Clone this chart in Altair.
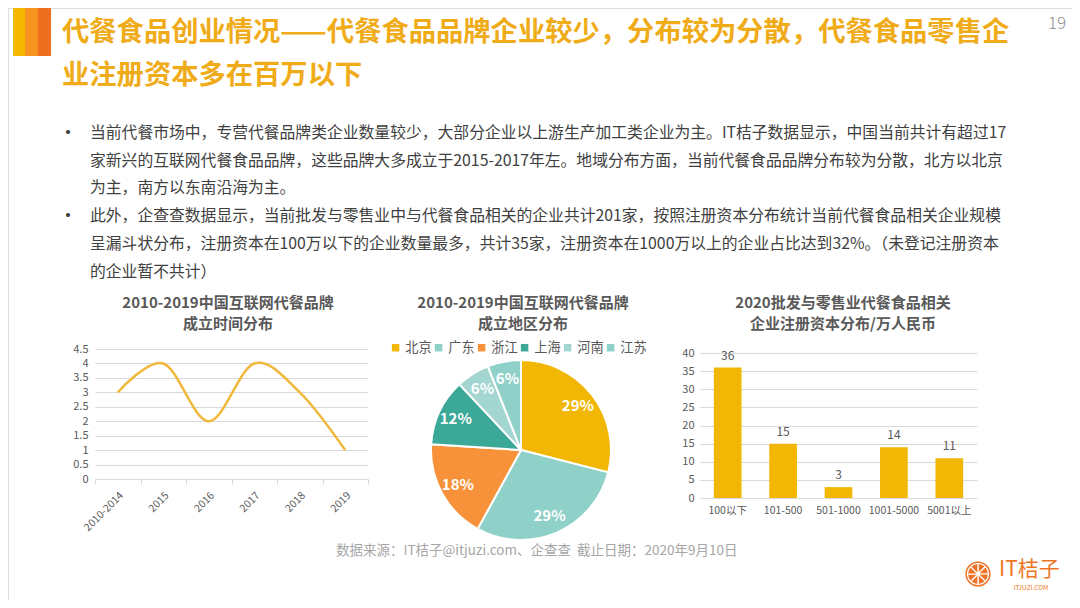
import altair as alt
import pandas as pd

FONT = "Noto Sans CJK SC"

# ---------------- data ----------------
line_years = ["2010-2014", "2015", "2016", "2017", "2018", "2019"]
line_counts = [3, 4, 2, 4, 3, 1]
line_ticks = [0, 0.5, 1, 1.5, 2, 2.5, 3, 3.5, 4, 4.5]

pie_regions = ["北京", "广东", "浙江", "上海", "河南", "江苏"]
pie_shares = [29, 29, 18, 12, 6, 6]
pie_labels = ["29%", "29%", "18%", "12%", "6%", "6%"]
pie_order = [1, 2, 3, 4, 5, 6]
pie_colors = ["#F2B705", "#8FD0C8", "#F7923A", "#3BA898", "#A3D6D0", "#8FD0C8"]

bar_ranges = ["100以下", "101-500", "501-1000", "1001-5000", "5001以上"]
bar_counts = [36, 15, 3, 14, 11]
bar_ticks = [0, 5, 10, 15, 20, 25, 30, 35, 40]

title_lines = [
    "代餐食品创业情况——代餐食品品牌企业较少，分布较为分散，代餐食品零售企",
    "业注册资本多在百万以下",
]
page_number = "19"
bullet_lines = [
    "当前代餐市场中，专营代餐品牌类企业数量较少，大部分企业以上游生产加工类企业为主。IT桔子数据显示，中国当前共计有超过17",
    "家新兴的互联网代餐食品品牌，这些品牌大多成立于2015-2017年左。地域分布方面，当前代餐食品品牌分布较为分散，北方以北京",
    "为主，南方以东南沿海为主。",
    "此外，企查查数据显示，当前批发与零售业中与代餐食品相关的企业共计201家，按照注册资本分布统计当前代餐食品相关企业规模",
    "呈漏斗状分布，注册资本在100万以下的企业数量最多，共计35家，注册资本在1000万以上的企业占比达到32%。（未登记注册资本",
    "的企业暂不共计）",
]
chart_titles = [
    ["2010-2019中国互联网代餐品牌", "成立时间分布"],
    ["2010-2019中国互联网代餐品牌", "成立地区分布"],
    ["2020批发与零售业代餐食品相关", "企业注册资本分布/万人民币"],
]
source_text = "数据来源：IT桔子@itjuzi.com、企查查\u00a0\u00a0截止日期：2020年9月10日"
logo_text = "IT桔子"
logo_sub = "ITJUZI.COM"
logo_slices = [1, 1, 1, 1, 1, 1, 1, 1]

GOLD = "#F0AB18"
GRID = "#D9D9D9"
AXIS_TXT = "#595959"


def label(s, x, y, size, color, weight="normal", align="left", baseline="middle"):
    return alt.Chart(pd.DataFrame({"t": [s]})).mark_text(
        align=align, baseline=baseline, fontSize=size, color=color,
        fontWeight=weight, font=FONT
    ).encode(text="t:N", x=alt.value(x), y=alt.value(y))


def stripe(x0, x1, color):
    return alt.Chart(pd.DataFrame({"a": [0]})).mark_rect(color=color).encode(
        x=alt.value(x0), x2=alt.value(x1), y=alt.value(0), y2=alt.value(48)
    )


layers = []
# header decoration
layers += [stripe(5, 17, "#F5B800"), stripe(17, 30, "#F7931E"), stripe(30, 43, "#EE6F1F")]
layers.append(label(title_lines[0], 54, 25, 27.3, GOLD, "bold"))
layers.append(label(title_lines[1], 54, 68, 27.3, GOLD, "bold"))
layers.append(label(page_number, 1049, 16, 17, "#8C8C8C", 300, "center"))

# bullets
bullet_y = [125, 153, 180, 208, 236, 264]
for s, yy in zip(bullet_lines, bullet_y):
    layers.append(label(s, 82, yy, 15.8, "#404040"))
layers.append(label("•", 60, 126, 19, "#404040", "normal", "center"))
layers.append(label("•", 60, 209, 19, "#404040", "normal", "center"))

# chart titles
for (l1, l2), cx in zip(chart_titles, [220, 515, 835]):
    layers.append(label(l1, cx, 294.5, 15, AXIS_TXT, "bold", "center"))
    layers.append(label(l2, cx, 315.5, 15, AXIS_TXT, "bold", "center"))

# footer
layers.append(label(source_text, 328, 543, 13.5, "#A6A6A6"))

# ---------------- line chart ----------------
line_df = pd.DataFrame({"year": line_years, "n": line_counts})
line = alt.Chart(line_df).mark_line(
    interpolate="cardinal", color="#F0B83C", strokeWidth=2.5
).encode(
    x=alt.X("year:N", sort=line_years, title=None,
            scale=alt.Scale(type="band", range=[87, 360], paddingInner=0, paddingOuter=0),
            axis=alt.Axis(orient="bottom", offset=-121, labelAngle=315, labelFontSize=10.5,
                          labelColor=AXIS_TXT, labelFont=FONT, tickBand="extent",
                          tickColor=GRID, tickSize=5, domainColor=GRID, labelPadding=6,
                          grid=False)),
    y=alt.Y("n:Q", title=None,
            scale=alt.Scale(domain=[0, 4.5], range=[471, 341], nice=False),
            axis=alt.Axis(orient="left", offset=-87, values=line_ticks, format="~g",
                          domain=False, ticks=False, grid=True, gridColor=GRID,
                          labelFontSize=11, labelColor=AXIS_TXT, labelPadding=7,
                          labelFont=FONT)),
)
layers.append(line)

# ---------------- pie chart ----------------
pie_df = pd.DataFrame({"region": pie_regions, "share": pie_shares,
                       "pct": pie_labels, "idx": pie_order})
theta = alt.Theta("share:Q", stack=True)
arcs = alt.Chart(pie_df).mark_arc(outerRadius=90, stroke="white", strokeWidth=2).encode(
    theta=theta,
    color=alt.Color("region:N", scale=alt.Scale(domain=pie_regions, range=pie_colors),
                    legend=alt.Legend(orient="none", legendX=381, legendY=333,
                                      direction="horizontal", columns=6, title=None,
                                      symbolType="square", symbolSize=56,
                                      symbolStrokeWidth=0, labelFontSize=13.2,
                                      labelColor=AXIS_TXT, labelFont=FONT,
                                      columnPadding=0, labelOffset=3)),
    order=alt.Order("idx:Q"),
    x=alt.value(513), y=alt.value(442),
)
pie_text = alt.Chart(pie_df).mark_text(
    radius=72, fontSize=15, fontWeight="bold", color="white", font=FONT
).encode(
    theta=theta, detail="region:N", order=alt.Order("idx:Q"), text="pct:N",
    x=alt.value(513), y=alt.value(442),
)
layers.append(alt.layer(arcs, pie_text))

# ---------------- bar chart ----------------
bar_df = pd.DataFrame({"range": bar_ranges, "n": bar_counts})
bx = alt.X("range:N", sort=bar_ranges, title=None,
           scale=alt.Scale(range=[692, 969], paddingInner=0.5, paddingOuter=0.25),
           axis=alt.Axis(orient="bottom", offset=-102, labelAngle=0, domain=False,
                         ticks=False, labelFontSize=10.5, labelColor=AXIS_TXT,
                         labelPadding=7, labelFont=FONT, grid=False))
by = alt.Y("n:Q", title=None,
           scale=alt.Scale(domain=[0, 40], range=[490, 345], nice=False),
           axis=alt.Axis(orient="left", offset=-692, values=bar_ticks, domain=False,
                         ticks=False, grid=True, gridColor=GRID, labelFontSize=11,
                         labelColor=AXIS_TXT, labelPadding=6, labelFont=FONT))
bars = alt.Chart(bar_df).mark_bar(color="#F2B705").encode(x=bx, y=by)
bar_text = alt.Chart(bar_df).mark_text(
    baseline="bottom", dy=-5, fontSize=12, color=AXIS_TXT, font=FONT
).encode(x=bx, y=by, text="n:Q")
layers.append(alt.layer(bars, bar_text))

# ---------------- logo ----------------
logo_df = pd.DataFrame({"s": logo_slices})
logo_arc = alt.Chart(logo_df).mark_arc(
    outerRadius=10.5, color="#F07427", stroke="white", strokeWidth=1.2
).encode(theta=alt.Theta("s:Q", stack=True), x=alt.value(970), y=alt.value(566))
logo_ring = alt.Chart(pd.DataFrame({"a": [0]})).mark_point(
    shape="circle", filled=False, size=560, stroke="#F07427", strokeWidth=1.5, opacity=1
).encode(x=alt.value(970), y=alt.value(566))
layers += [logo_arc, logo_ring]
layers.append(label(logo_text, 991, 562, 21, "#EE7623"))
layers.append(label(logo_sub, 1023, 580, 6.5, "#EE7623", "normal", "center"))

chart = alt.layer(*layers).resolve_scale(
    x="independent", y="independent", theta="independent", color="independent"
).resolve_axis(
    x="independent", y="independent"
).resolve_legend(
    color="independent"
).properties(
    width=1064, height=592, padding=0, background="white"
).configure_view(strokeWidth=0).configure(font=FONT)

chart.save("out.html", embed_options={"renderer": "svg", "actions": False})
